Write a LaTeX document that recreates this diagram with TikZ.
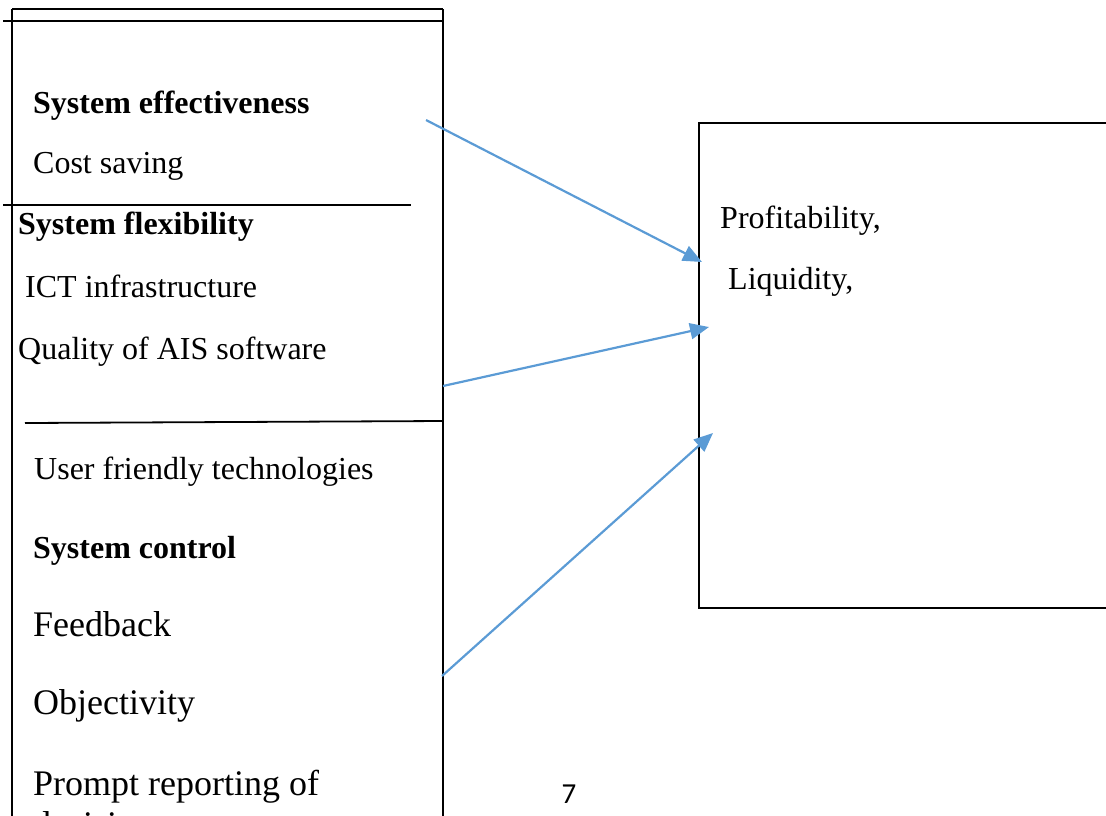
\documentclass[tikz,border=0pt]{standalone}
\usepackage{fontspec}
\setmainfont{Liberation Serif}
\newfontfamily\pagefont{Carlito}
\usetikzlibrary{arrows.meta}
\definecolor{linkblue}{RGB}{91,155,213}
\begin{document}
\begin{tikzpicture}[x=1pt,y=-1pt,
  rule/.style={line width=1.8pt,black},
  item/.style={anchor=base west,inner sep=0pt,font=\fontsize{32}{38}\selectfont},
  head/.style={item,font=\fontsize{32}{38}\selectfont\bfseries},
  bigitem/.style={anchor=base west,inner sep=0pt,font=\fontsize{36}{42}\selectfont},
  link/.style={linkblue,line width=2.2pt,-{Triangle[length=19pt,width=16pt]}}]
\useasboundingbox (0,0) rectangle (1106,815);
\clip (0,0) rectangle (1106,815);

% left column of factors
\draw[rule] (12,9) -- (443,9);
\draw[rule] (3,21) -- (443,21);
\draw[rule] (12,9) -- (12,820);
\draw[rule] (443,9) -- (443,820);
\draw[rule] (3,205) -- (411,205);
\draw[rule] (25,423) -- (443,421);

\node[head] (eff) at (33,113) {System effectiveness};
\node[item] (cost) at (33,173) {Cost saving};
\node[head] (flex) at (18,234) {System flexibility};
\node[item] (ict) at (25,297) {ICT infrastructure};
\node[item] (ais) at (18,359) {Quality of AIS software};
\node[item] (user) at (34,479) {User friendly technologies};
\node[head] (ctrl) at (33,558) {System control};
\node[bigitem] (fb) at (33,636) {Feedback};
\node[bigitem] (obj) at (33,714) {Objectivity};
\node[bigitem] (prompt) at (33,795) {Prompt reporting of};
\node[bigitem] (dec) at (33,836) {decisions};

% performance box
\draw[rule] (699,123) rectangle (1112,608);
\node[item] (prof) at (720,228) {Profitability,};
\node[item] (liq) at (728,289) {Liquidity,};

% page number
\node[anchor=base,inner sep=0pt,font=\pagefont\fontsize{29}{33}\selectfont] (pg) at (569,803) {7};

% links between the groups and the box
\coordinate (s1) at (426,120);
\coordinate (t1) at (702,262);
\coordinate (s2) at (443,386);
\coordinate (t2) at (709,327);
\coordinate (s3) at (442,676);
\coordinate (t3) at (713,433);
\draw[link] (s1) -- (t1);
\draw[link] (s2) -- (t2);
\draw[link] (s3) -- (t3);
\end{tikzpicture}
\end{document}
